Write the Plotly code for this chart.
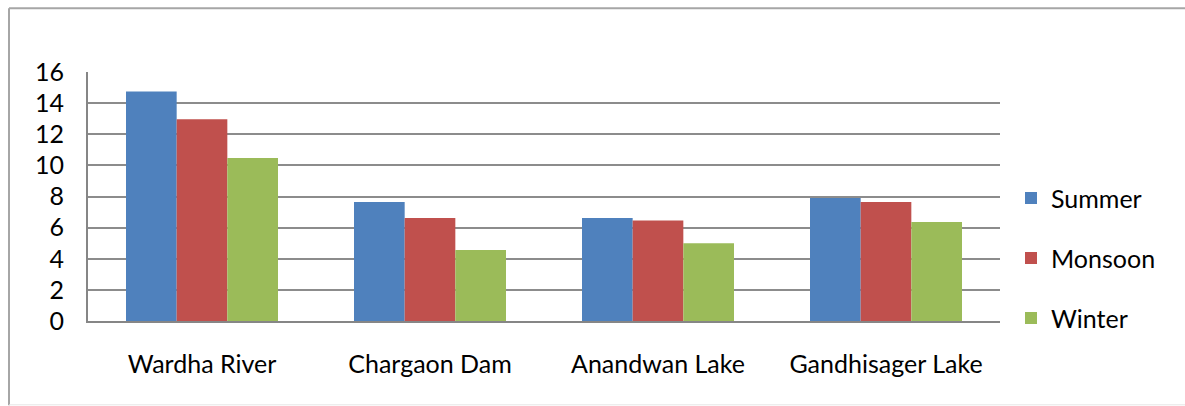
import plotly.graph_objects as go

categories = ["Wardha River", "Chargaon Dam", "Anandwan Lake", "Gandhisager Lake"]
summer = [14.75, 7.65, 6.62, 7.9]
monsoon = [12.96, 6.62, 6.45, 7.65]
winter = [10.47, 4.56, 4.99, 6.36]
y_ticks = [0, 2, 4, 6, 8, 10, 12, 14, 16]

FONT = "Lato"
FS = 25
series = [("Summer", summer, "#4F81BD"), ("Monsoon", monsoon, "#C0504D"), ("Winter", winter, "#9BBB59")]

fig = go.Figure()
for name, vals, col in series:
    fig.add_trace(go.Bar(x=categories, y=vals, name=name, marker_color=col,
                         marker_line_width=0, legendgroup=name))

L, R, T, B = 88, 1000, 71.7, 320.7
W, H = 1185, 406
def px(x):
    return (x - L) / (R - L)
def py(y):
    return (B - y) / (B - T)

fig.update_layout(
    width=W, height=H,
    margin=dict(l=L, r=W - R, t=T, b=H - B, pad=0),
    paper_bgcolor="white", plot_bgcolor="white",
    font=dict(family=FONT, size=FS, color="#000000"),
    barmode="group", bargap=1/3, bargroupgap=0,
    showlegend=True,
    legend=dict(x=px(1011), xanchor="left", y=py(175), yanchor="top",
                font=dict(size=FS, family=FONT), tracegroupgap=24.5,
                bgcolor="rgba(0,0,0,0)", itemsizing="constant"),
    xaxis=dict(showgrid=False, showline=True, linecolor="#868686", linewidth=2,
               ticks="", ticklabelstandoff=20, tickfont=dict(size=FS)),
    yaxis=dict(range=[0, 16], tickvals=y_ticks, showgrid=True, gridcolor="#8c8c8c",
               gridwidth=1.5, showline=True, linecolor="#868686", linewidth=2,
               ticks="", ticklabelstandoff=17, tickfont=dict(size=FS), zeroline=False),
    shapes=[
        dict(type="line", xref="paper", yref="paper", x0=px(9), x1=px(1200), y0=py(8), y1=py(8),
             line=dict(color="#a6a6a6", width=2)),
        dict(type="line", xref="paper", yref="paper", x0=px(9), x1=px(9), y0=py(8), y1=py(405),
             line=dict(color="#a6a6a6", width=2)),
        dict(type="line", xref="paper", yref="paper", x0=px(9), x1=px(1200), y0=py(404.5), y1=py(404.5),
             line=dict(color="#e6e6e6", width=1)),
    ],
)

fig.write_html("out.html")
